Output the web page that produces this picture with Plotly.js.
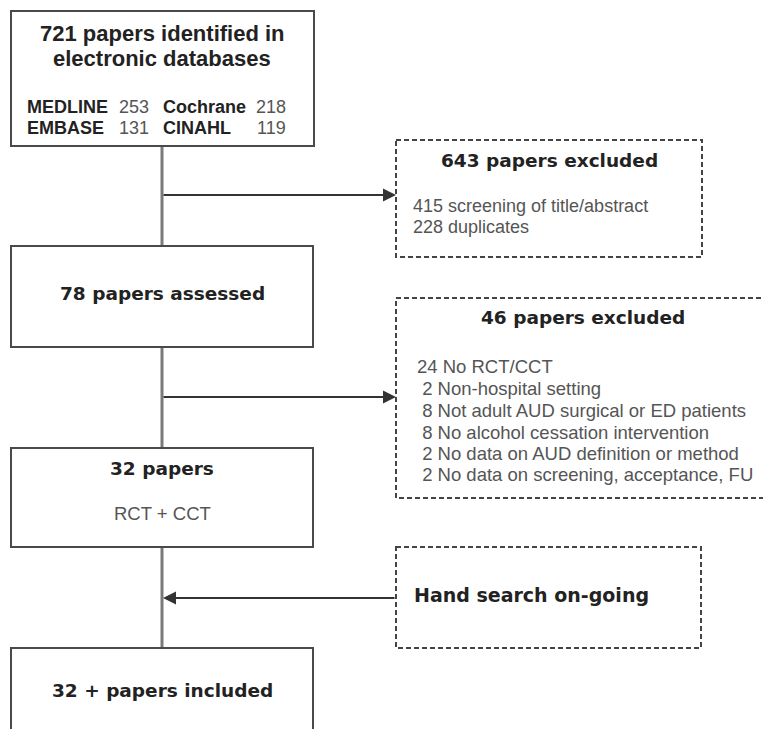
<!DOCTYPE html>
<html>
<head>
<meta charset="utf-8">
<script src="https://cdn.plot.ly/plotly-3.0.1.min.js"></script>
<style>html,body{margin:0;padding:0;background:#fff;}#chart{width:763px;height:729px;}</style>
</head>
<body>
<div id="chart"></div>
<script>
// ---- data ----
const identifiedTotal = 721;
const dbNames = ['MEDLINE', 'Cochrane', 'EMBASE', 'CINAHL'];
const dbCounts = [253, 218, 131, 119];
const screenReasons = ['screening of title/abstract', 'duplicates'];
const screenCounts = [415, 228];
const assessedCount = 78;
const fullReasons = ['No RCT/CCT', 'Non-hospital setting', 'Not adult AUD surgical or ED patients',
  'No alcohol cessation intervention', 'No data on AUD definition or method',
  'No data on screening, acceptance, FU'];
const fullCounts = [24, 2, 8, 8, 2, 2];
const eligibleCount = 32;
const eligibleNote = 'RCT + CCT';
const handSearchLabel = 'Hand search on-going';
const includedLabel = '32 + papers included';

// ---- styles / layout ----
const BOLD = 'DejaVu Sans, Verdana, sans-serif';
const ARIAL = 'Liberation Sans, Arial, sans-serif';
const dark = '#222';
const grey = '#555';
const solidBox = {color: '#4a4a4a', width: 2};
const dashBox = {color: '#444', width: 2, dash: '5px,3px'};

const shapes = [];
const ann = [];
function rect(x0, y0, x1, y1, line) {
  shapes.push({type: 'rect', xref: 'x', yref: 'y', x0, y0, x1, y1, line, fillcolor: '#fff'});
}
function seg(x0, y0, x1, y1, line) {
  shapes.push({type: 'line', xref: 'x', yref: 'y', x0, y0, x1, y1, line});
}
function txt(text, x, y, font, xanchor) {
  ann.push({text, x, y, xref: 'x', yref: 'y', showarrow: false, font,
    xanchor: xanchor || 'center', yanchor: 'middle', borderpad: 0});
}
function arrow(xFrom, yFrom, xTo, yTo) {
  ann.push({text: '', x: xTo, y: yTo, ax: xFrom, ay: yFrom, xref: 'x', yref: 'y',
    axref: 'x', ayref: 'y', showarrow: true, arrowhead: 2, arrowsize: 1.3,
    arrowwidth: 2, arrowcolor: '#333', standoff: 0});
}

const cx = 162;
const vline = {color: '#7a7a7a', width: 3};
// vertical trunk segments
seg(cx, 146, cx, 246, vline);
seg(cx, 347, cx, 448, vline);
seg(cx, 547, cx, 648, vline);

// connectors
arrow(cx, 195, 396, 195);
arrow(cx, 397, 396, 397);
arrow(396, 598, cx + 1, 598);

// boxes
rect(11, 11, 314, 146, solidBox);
rect(11, 246, 313, 347, solidBox);
rect(11, 448, 313, 547, solidBox);
rect(11, 648, 313, 745, solidBox);
rect(396, 140, 702, 257, dashBox);
rect(396, 298, 772, 498, dashBox);
rect(396, 547, 701, 648, dashBox);

// box 1 text
const fTitleA = {family: ARIAL, size: 22, color: dark, weight: 'bold'};
txt('<b>' + identifiedTotal + ' papers identified in</b>', cx, 33, fTitleA);
txt('<b>electronic databases</b>', cx, 58, fTitleA);
const fName = {family: ARIAL, size: 18, color: dark};
const fNum = {family: ARIAL, size: 18, color: grey};
const nameX = [26, 162, 26, 162];
const numRight = [150, 287, 150, 287];
const rowY = [107, 107, 128, 128];
dbNames.forEach((n, i) => {
  txt('<b>' + n + '</b>', nameX[i], rowY[i], fName, 'left');
  txt(String(dbCounts[i]), numRight[i], rowY[i], fNum, 'right');
});

// excluded (screening)
const fBold = {family: BOLD, size: 18.5, color: dark};
const fReg = {family: ARIAL, size: 18.5, color: grey};
const fRegS = {family: ARIAL, size: 18, color: grey};
const screenTotal = screenCounts.reduce((a, b) => a + b, 0);
txt('<b>' + screenTotal + ' papers excluded</b>', 549, 160, fBold);
const screenY = [206, 227];
screenReasons.forEach((r, i) => txt(screenCounts[i] + ' ' + r, 412, screenY[i], fRegS, 'left'));

// assessed
txt('<b>' + assessedCount + ' papers assessed</b>', cx, 293, fBold);

// excluded (full text)
const fullTotal = fullCounts.reduce((a, b) => a + b, 0);
txt('<b>' + fullTotal + ' papers excluded</b>', 583, 317, fBold);
const fullY = [366, 388, 410, 432, 453, 474];
fullReasons.forEach((r, i) => {
  const c = fullCounts[i] < 10 ? '\u00A0' + fullCounts[i] : String(fullCounts[i]);
  txt(c + ' ' + r, 416, fullY[i], fReg, 'left');
});

// eligible
txt('<b>' + eligibleCount + ' papers</b>', cx, 468, fBold);
txt(eligibleNote, cx, 513, fReg);

// hand search
txt('<b>' + handSearchLabel + '</b>', 413, 595, {family: BOLD, size: 19, color: dark}, 'left');

// included
txt('<b>' + includedLabel + '</b>', cx, 690, fBold);

const layout = {
  width: 763, height: 729,
  margin: {l: 0, r: 0, t: 0, b: 0},
  paper_bgcolor: '#fff', plot_bgcolor: '#fff',
  showlegend: false,
  xaxis: {range: [0, 763], visible: false, fixedrange: true},
  yaxis: {range: [729, 0], visible: false, fixedrange: true},
  shapes, annotations: ann
};
Plotly.newPlot('chart', [{x: [], y: [], type: 'scatter', mode: 'markers', hoverinfo: 'skip'}], layout,
  {staticPlot: true, displayModeBar: false});
</script>
</body>
</html>
